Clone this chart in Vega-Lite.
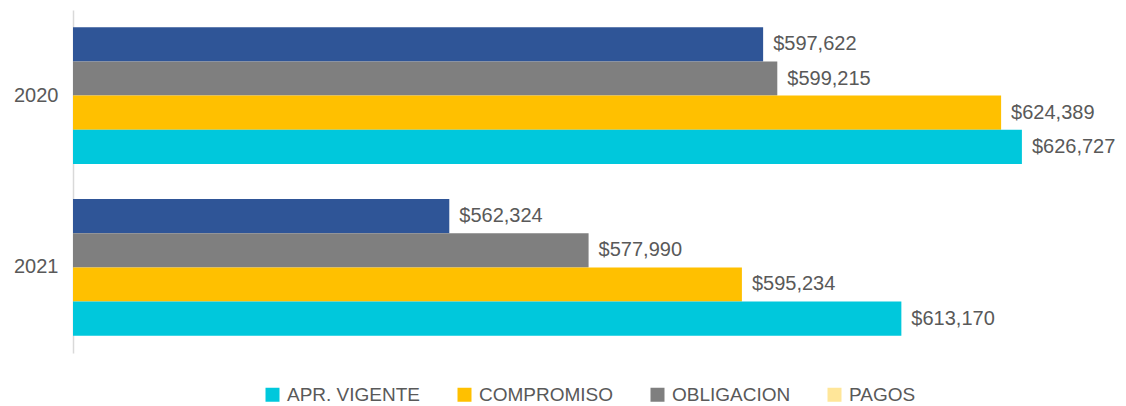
{
  "$schema": "https://vega.github.io/schema/vega-lite/v6.json",
  "width": 978,
  "height": 343,
  "autosize": {"type": "none"},
  "padding": {"left": 73, "top": 10, "right": 75, "bottom": 53},
  "background": "white",
  "config": {"view": {"stroke": null}, "font": "Liberation Sans"},
  "data": {
    "values": [
      {"year": "2020", "serie": "PAGOS", "valor": 597622},
      {"year": "2020", "serie": "OBLIGACION", "valor": 599215},
      {"year": "2020", "serie": "COMPROMISO", "valor": 624389},
      {"year": "2020", "serie": "APR. VIGENTE", "valor": 626727},
      {"year": "2021", "serie": "PAGOS", "valor": 562324},
      {"year": "2021", "serie": "OBLIGACION", "valor": 577990},
      {"year": "2021", "serie": "COMPROMISO", "valor": 595234},
      {"year": "2021", "serie": "APR. VIGENTE", "valor": 613170}
    ]
  },
  "encoding": {
    "y": {
      "field": "year",
      "type": "nominal",
      "scale": {"paddingInner": 0.203, "paddingOuter": 0.1},
      "axis": {
        "title": null,
        "ticks": false,
        "labelFontSize": 20,
        "labelColor": "#595959",
        "labelPadding": 15,
        "domainColor": "#D9D9D9",
        "domainWidth": 1.5
      }
    },
    "yOffset": {
      "field": "serie",
      "type": "nominal",
      "sort": ["PAGOS", "OBLIGACION", "COMPROMISO", "APR. VIGENTE"],
      "scale": {"paddingInner": 0, "paddingOuter": 0}
    },
    "x": {
      "field": "valor",
      "type": "quantitative",
      "scale": {"domain": [520000, 630000], "zero": false, "nice": false},
      "axis": null
    }
  },
  "layer": [
    {
      "mark": {"type": "bar", "clip": true},
      "encoding": {
        "color": {
          "field": "serie",
          "type": "nominal",
          "scale": {
            "domain": ["APR. VIGENTE", "COMPROMISO", "OBLIGACION", "PAGOS"],
            "range": ["#00C8DC", "#FFC000", "#7F7F7F", "#2F5597"]
          },
          "legend": null
        }
      }
    },
    {
      "mark": {"type": "bar", "clip": true, "opacity": 0},
      "encoding": {
        "color": {
          "field": "serie",
          "type": "nominal",
          "scale": {
            "domain": ["APR. VIGENTE", "COMPROMISO", "OBLIGACION", "PAGOS"],
            "range": ["#00C8DC", "#FFC000", "#7F7F7F", "#FFE699"]
          },
          "legend": {
            "title": null,
            "orient": "none",
            "direction": "horizontal",
            "columns": 4,
            "legendX": 190,
            "legendY": 375,
            "symbolType": "square",
            "symbolSize": 196,
            "symbolStrokeWidth": 0,
            "symbolOpacity": 1,
            "labelFontSize": 19,
            "labelColor": "#595959",
            "labelOffset": 5,
            "columnPadding": 34,
            "labelLimit": 300
          }
        }
      }
    },
    {
      "mark": {"type": "text", "align": "left", "baseline": "middle", "dx": 10, "fontSize": 20, "color": "#595959"},
      "encoding": {
        "text": {"field": "valor", "type": "quantitative", "format": "$,.0f"}
      }
    }
  ],
  "resolve": {"scale": {"color": "independent"}}
}
